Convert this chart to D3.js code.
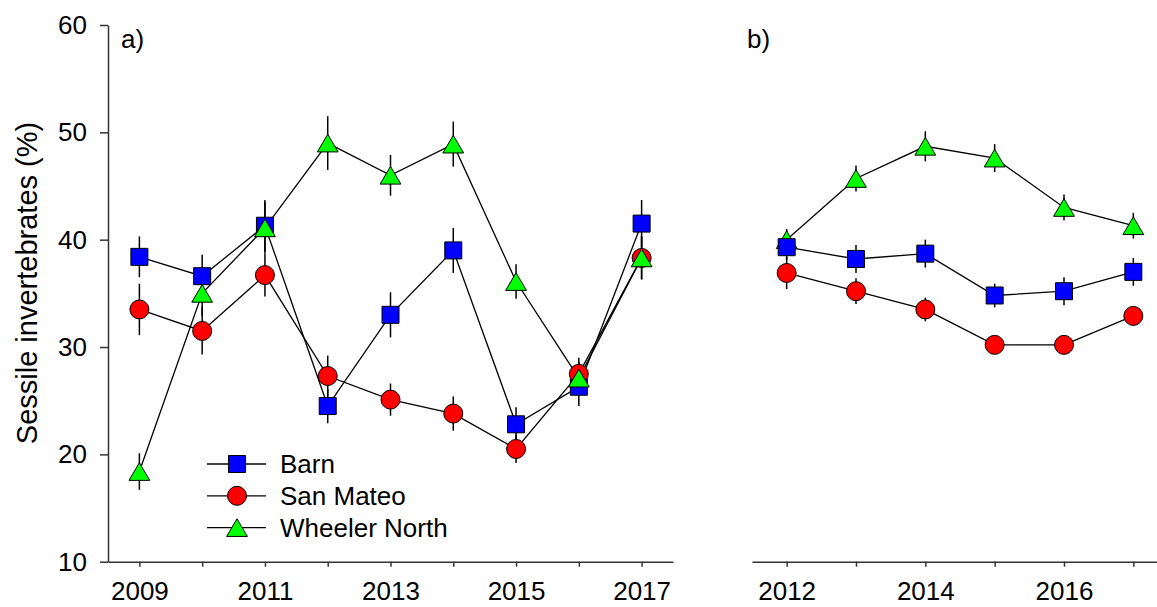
<!DOCTYPE html>
<html>
<head>
<meta charset="utf-8">
<script src="https://d3js.org/d3.v7.min.js"></script>
<style>
body{margin:0;background:#fff;}
#chart svg{display:block;font-family:"Liberation Sans",Arial,Helvetica,sans-serif;}
</style>
</head>
<body>
<div id="chart"></div>
<script>
/** data **/
var sites = ["Barn", "San Mateo", "Wheeler North"];

// a) 2009 - 2017
var yearsA = [2009, 2010, 2011, 2012, 2013, 2014, 2015, 2016, 2017];
var barnA   = [38.4, 36.6, 41.3, 24.5, 33.0, 39.0, 22.8, 26.3, 41.5];
var barnErrA = [1.9, 2.0, 2.4, 1.6, 2.1, 2.1, 1.6, 1.8, 2.2];
var smA     = [33.5, 31.5, 36.7, 27.3, 25.1, 23.8, 20.5, 27.5, 38.3];
var smErrA  = [2.4, 2.2, 2.0, 1.9, 1.5, 1.6, 1.3, 1.5, 2.0];
var wnA     = [18.4, 35.0, 41.1, 49.0, 46.0, 48.9, 36.1, 27.1, 38.3];
var wnErrA  = [1.7, 2.1, 2.4, 2.5, 1.9, 2.1, 1.6, 1.5, 2.0];

// b) 2012 - 2017
var yearsB = [2012, 2013, 2014, 2015, 2016, 2017];
var barnB   = [39.3, 38.2, 38.7, 34.8, 35.2, 37.0];
var barnErrB = [1.2, 1.3, 1.3, 1.1, 1.3, 1.3];
var smB     = [36.9, 35.2, 33.5, 30.2, 30.2, 32.9];
var smErrB  = [1.5, 1.2, 1.1, 0.7, 0.7, 0.7];
var wnB     = [40.0, 45.7, 48.7, 47.6, 43.0, 41.3];
var wnErrB  = [1.0, 1.2, 1.4, 1.3, 1.2, 1.2];

var yTicks = [10, 20, 30, 40, 50, 60];
var xLabelsA = [2009, 2011, 2013, 2015, 2017];
var xLabelsB = [2012, 2014, 2016];

function SessileChart(_param){
	var param = _param || {};
	var width = param.width || 1157;
	var height = param.height || 607;
	var fontSize = 26;

	var colors = ["#0000ff", "#ff0000", "#00ff00"];

	//삼각형 (bbox 가운데 기준)
	var triangle = {
		draw: function(ctx, size){
			var w = Math.sqrt(size) * 1.2, h = w * 0.85;
			ctx.moveTo(0, -h / 2);
			ctx.lineTo(w / 2, h / 2);
			ctx.lineTo(-w / 2, h / 2);
			ctx.closePath();
		}
	};
	var shapes = [
		d3.symbol().type(d3.symbolSquare).size(17 * 17),
		d3.symbol().type(d3.symbolCircle).size(Math.PI * 9.5 * 9.5),
		d3.symbol().type(triangle).size(300)
	];

	var svg = d3.select(param.div || "body")
		.append("svg")
		.attr("width", width)
		.attr("height", height);

	var y = d3.scaleLinear().domain([10, 60]).range([561.7, 25]);

	function panel(years, series, errs, xRange, labels, order, showY){
		var x = d3.scaleLinear()
			.domain([years[0] - 0.5, years[years.length - 1] + 0.5])
			.range(xRange);

		var g = svg.append("g");

		//x축
		var xAxis = g.append("g")
			.attr("transform", "translate(0," + y(10) + ")")
			.call(d3.axisBottom(x)
				.tickValues(years)
				.tickSize(5)
				.tickSizeOuter(0)
				.tickPadding(15)
				.tickFormat(function(d){ return labels.indexOf(d) >= 0 ? d : ""; }));
		styleAxis(xAxis);

		//y축
		if(showY){
			var yAxis = g.append("g")
				.attr("transform", "translate(" + xRange[0] + ",0)")
				.call(d3.axisLeft(y)
					.tickValues(yTicks)
					.tickSize(8)
					.tickSizeOuter(0)
					.tickPadding(13)
					.tickFormat(d3.format("d")));
			styleAxis(yAxis);
		}

		var line = d3.line()
			.x(function(d){ return x(d[0]); })
			.y(function(d){ return y(d[1]); });

		//선 + 오차막대
		order.forEach(function(s){
			var pts = years.map(function(yr, i){ return [yr, series[s][i], errs[s][i]]; });
			g.append("path")
				.datum(pts)
				.attr("d", line)
				.attr("fill", "none")
				.attr("stroke", "#000")
				.attr("stroke-width", 1.3);
			g.selectAll(".err" + s)
				.data(pts)
				.enter()
				.append("line")
				.attr("x1", function(d){ return x(d[0]); })
				.attr("x2", function(d){ return x(d[0]); })
				.attr("y1", function(d){ return y(d[1] - d[2]); })
				.attr("y2", function(d){ return y(d[1] + d[2]); })
				.attr("stroke", "#000")
				.attr("stroke-width", 1.5);
		});

		//심볼
		order.forEach(function(s){
			g.selectAll(".sym" + s)
				.data(years.map(function(yr, i){ return [yr, series[s][i]]; }))
				.enter()
				.append("path")
				.attr("d", shapes[s]())
				.attr("transform", function(d){ return "translate(" + x(d[0]) + "," + y(d[1]) + ")"; })
				.attr("fill", colors[s])
				.attr("stroke", "#000")
				.attr("stroke-width", 1);
		});
		return g;
	}

	function styleAxis(a){
		a.select(".domain").attr("stroke", "#333").attr("stroke-width", 1.5);
		a.selectAll(".tick line").attr("stroke", "#333").attr("stroke-width", 1.5);
		a.selectAll(".tick text")
			.attr("font-size", fontSize)
			.attr("font-family", "Liberation Sans, Arial, sans-serif")
			.attr("fill", "#000");
	}

	panel(yearsA, [barnA, smA, wnA], [barnErrA, smErrA, wnErrA], [108, 673], xLabelsA, [0, 1, 2], true);
	panel(yearsB, [barnB, smB, wnB], [barnErrB, smErrB, wnErrB], [752, 1168], xLabelsB, [2, 1, 0], false);

	//패널 라벨
	svg.append("text").attr("x", 121).attr("y", 48).attr("font-size", fontSize).text("a)");
	svg.append("text").attr("x", 747).attr("y", 48).attr("font-size", fontSize).text("b)");

	//y축 제목
	svg.append("text")
		.attr("transform", "translate(37," + 283 + ") rotate(-90)")
		.attr("text-anchor", "middle")
		.attr("font-size", 29)
		.text("Sessile invertebrates (%)");

	//범례
	var legend = svg.append("g").attr("transform", "translate(207,464)");
	sites.forEach(function(name, i){
		var row = legend.append("g").attr("transform", "translate(0," + (i * 31.8) + ")");
		row.append("line")
			.attr("x1", 0).attr("x2", 59)
			.attr("stroke", "#000").attr("stroke-width", 1.3);
		row.append("path")
			.attr("d", shapes[i]())
			.attr("transform", "translate(30,0)")
			.attr("fill", colors[i])
			.attr("stroke", "#000")
			.attr("stroke-width", 1);
		row.append("text")
			.attr("x", 73)
			.attr("dy", "0.36em")
			.attr("font-size", fontSize)
			.text(name);
	});
}

new SessileChart({div: "#chart", width: 1157, height: 607});
</script>
</body>
</html>
